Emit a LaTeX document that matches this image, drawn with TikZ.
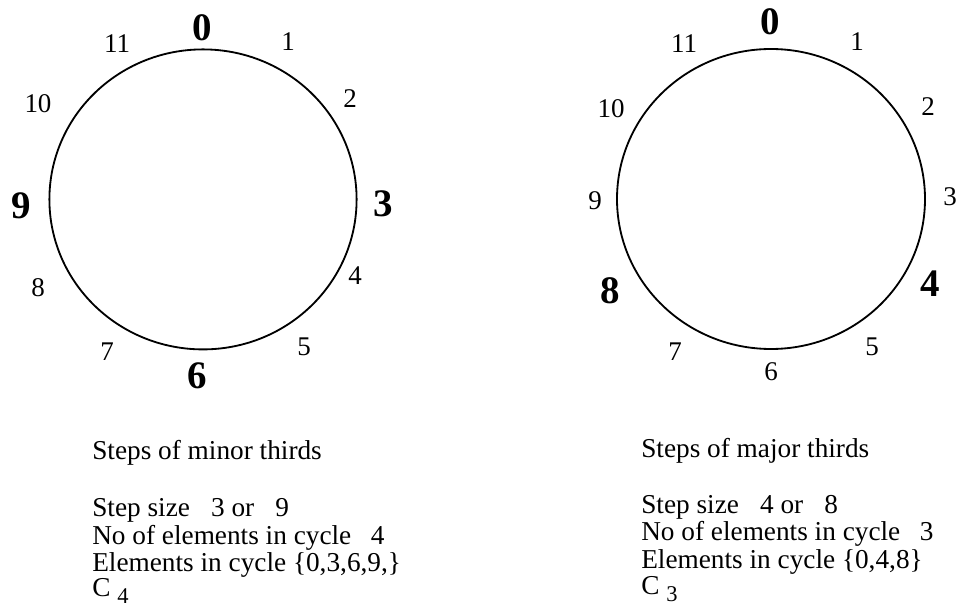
\documentclass[tikz,border=0pt]{standalone}
\usepackage{fontspec}
\setmainfont{Liberation Serif}

\begin{document}
\begin{tikzpicture}[scale=1,
    num/.style={inner sep=0pt, font=\fontsize{19.2}{20}\selectfont},
    bnum/.style={inner sep=0pt, font=\fontsize{27.7}{28}\selectfont\bfseries},
    txt/.style={anchor=base west, inner sep=0pt, font=\fontsize{19.4}{19.6}\selectfont}]
    \useasboundingbox (0,0) rectangle (23.925,15.175);

    % minor thirds
    \draw[line width=1.3pt] (5.075,10.19) ellipse (3.84 and 3.75);
    \node[bnum] (l0) at (5.06,14.475) {0};
    \node[num] (l1) at (7.2,14.125) {1};
    \node[num] (l2) at (8.75,12.7) {2};
    \node[bnum] (l3) at (9.575,10.075) {3};
    \node[num] (l4) at (8.875,8.275) {4};
    \node[num] (l5) at (7.6,6.5) {5};
    \node[bnum] (l6) at (4.925,5.775) {6};
    \node[num] (l7) at (2.675,6.375) {7};
    \node[num] (l8) at (0.95,7.975) {8};
    \node[bnum] (l9) at (0.525,10.025) {9};
    \node[num] (l10) at (0.95,12.575) {10};
    \node[num] (l11) at (2.925,14.075) {11};

    \node[txt] (mintitle) at (2.3,3.7) {Steps of minor thirds};
    \node[txt] (minstep) at (2.3,2.275) {Step size\hspace{15pt}3 or\hspace{15pt}9};
    \node[txt] (minno) at (2.3,1.575) {No of elements in cycle\hspace{14pt}4};
    \node[txt] (minel) at (2.3,0.9) {Elements in cycle \{0,3,6,9,\}};
    \node[txt] (mingrp) at (2.3,0.27) {C \raisebox{-5.5pt}{\fontsize{16}{16}\selectfont 4}};

    % major thirds
    \draw[line width=1.3pt] (19.275,10.2) ellipse (3.85 and 3.75);
    \node[bnum] (r0) at (19.25,14.625) {0};
    \node[num] (r1) at (21.425,14.125) {1};
    \node[num] (r2) at (23.2,12.5) {2};
    \node[num] (r3) at (23.75,10.25) {3};
    \node[bnum] (r4) at (23.25,8.075) {4};
    \node[num] (r5) at (21.8,6.5) {5};
    \node[num] (r6) at (19.275,5.875) {6};
    \node[num] (r7) at (16.875,6.375) {7};
    \node[bnum] (r8) at (15.25,7.9) {8};
    \node[num] (r9) at (14.875,10.15) {9};
    \node[num] (r10) at (15.275,12.45) {10};
    \node[num] (r11) at (17.1,14.075) {11};

    \node[txt] (majtitle) at (16.025,3.75) {Steps of major thirds};
    \node[txt] (majstep) at (16.025,2.35) {Step size\hspace{15pt}4 or\hspace{15pt}8};
    \node[txt] (majno) at (16.025,1.675) {No of elements in cycle\hspace{14pt}3};
    \node[txt] (majel) at (16.025,0.975) {Elements in cycle \{0,4,8\}};
    \node[txt] (majgrp) at (16.025,0.32) {C \raisebox{-5.5pt}{\fontsize{16}{16}\selectfont 3}};
\end{tikzpicture}
\end{document}
